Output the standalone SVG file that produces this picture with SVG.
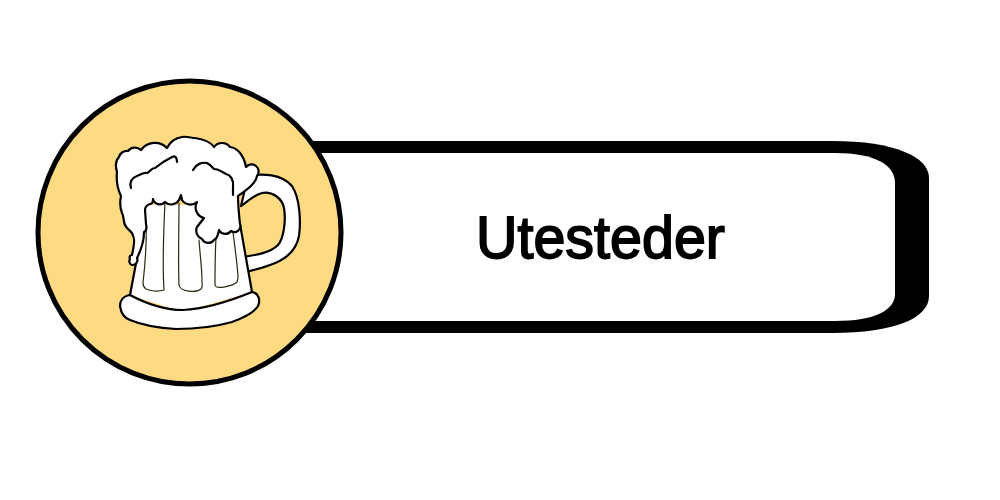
<svg xmlns="http://www.w3.org/2000/svg" width="1000" height="500" viewBox="0 0 1000 500">
<style>
.ink{fill:#fff;stroke:#000;stroke-width:2.2;stroke-linejoin:round;stroke-linecap:round}
.line{fill:none;stroke:#000;stroke-width:2.2;stroke-linecap:round;stroke-linejoin:round}
.thin{fill:none;stroke:#2a2a10;stroke-width:1.2;stroke-linecap:round}
.label{font-family:"Liberation Sans",Arial,sans-serif;font-size:60px;fill:#000;stroke:#000;stroke-width:1.8}
</style>
<rect width="1000" height="500" fill="#fff"/>
<g id="panel">
<path d="M300 141H832C895 141 929 157 929 178V296C929 318 895 333 832 333H300Z" fill="#000"/>
<path d="M300 153H835C875 153 895 165 895 183V294C895 310 875 321 835 321H300Z" fill="#fff"/>
<text class="label" x="476" y="258" textLength="249" lengthAdjust="spacingAndGlyphs">Utesteder</text>
</g>
<g id="badge">
<circle cx="189.500" cy="232.500" r="151.500" fill="#fedb83" stroke="#000" stroke-width="5"/>
<g id="mug">
<path class="ink" d="M248 176C262 173 282 174 292 186C300 198 301 222 299 236C296 252 285 260 270 265C262 268 254 270 246 272L243 257C256 255 270 253 278 245C284 238 286 220 284 208C282 198 272 191 262 193C254 195 248 201 241 206Z"/>
<path d="M145 205H238L252 292L183 312L130 295L137 258Z" fill="#fff"/>
<path class="line" d="M240 224L252 292M137 258L130 295"/>
<path class="thin" d="M165 202C164 225 162 260 164 290C158 292 150 291 146 289C143 287 143 285 143 283C145 265 147 245 146 225"/>
<path class="thin" d="M179 203C179 230 178 262 179 285C180 292 196 293 201 289C203 287 202 284 202 281C202 268 200 255 199 240"/>
<path class="thin" d="M216 238C215 255 215 272 215 285C216 290 233 286 237 282C238 280 238 278 238 276C237 262 235 248 233 232"/>
<path class="ink" d="M130 295C123 296 120 301 120 306C121 313 124 318 130 320C142 325 158 328 176 329C196 329 218 326 232 322C243 318 254 313 258 306C261 299 258 293 252 292C230 301 205 309 183 310C165 310 145 303 130 295Z"/>
<path class="ink" d="M117 172C115 165 116 160 119 157A8 8 0 0 1 128 151A9 9 0 0 1 141 150A17 17 0 0 1 167 148C170 142 175 138 182 137C186 136 192 138 195 138C202 139 210 141 214 147A10 10 0 0 1 230 147C238 148 244 156 246 167A7 7 0 0 1 257 176C256 183 248 189 238 196C238 205 239 215 240 224A6 6 0 0 1 231 231A7 7 0 0 1 219 230C218 234 218 238 214 240A7 7 0 0 1 202 239A9 9 0 0 1 197 227L204 218A11 11 0 0 1 197 202A10 10 0 0 1 182 200L181 195L179 200A9 9 0 0 1 165 202A7 7 0 0 1 153 199C153 203 151 204 150 204C147 205 145 207 145 210L146 224C147 228 146 231 144 232C144 240 141 250 137 258A5 5 0 0 1 132 265A4 4 0 0 1 130 259C129 257 130 255 132 255C134 246 135 238 133 236C133 231 127 230 125 225C123 221 124 216 122 213C120 208 120 201 121 196C118 190 116 182 117 172Z"/>
<path class="line" d="M131 188C129 182 132 178 137 176C141 175 143 172 147 173C150 172 151 168 155 168C160 164 166 160 172 157C176 155 177 159 177 162"/>
<path class="line" d="M193 170C196 164 202 162 207 163C211 165 213 168 214 169C219 169 222 172 226 174C231 175 234 181 233 187C233 191 233 194 233 195"/>
</g>
</g>
</svg>
